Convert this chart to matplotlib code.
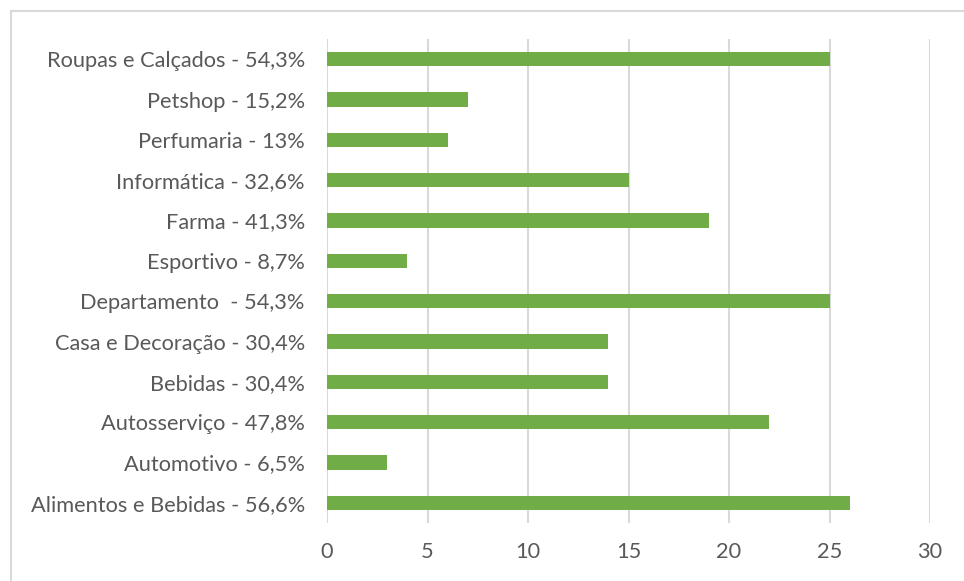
import matplotlib.pyplot as plt
from matplotlib.patches import Rectangle

# categories listed bottom to top
categories = [
    "Alimentos e Bebidas - 56,6%",
    "Automotivo - 6,5%",
    "Autosserviço - 47,8%",
    "Bebidas - 30,4%",
    "Casa e Decoração - 30,4%",
    "Departamento  - 54,3%",
    "Esportivo - 8,7%",
    "Farma - 41,3%",
    "Informática - 32,6%",
    "Perfumaria - 13%",
    "Petshop - 15,2%",
    "Roupas e Calçados - 54,3%",
]
counts = [26, 3, 22, 14, 14, 25, 4, 19, 15, 6, 7, 25]
x_ticks = [0, 5, 10, 15, 20, 25, 30]

BAR_COLOR = "#70AD47"
GRID_COLOR = "#D9D9D9"
TEXT_COLOR = "#595959"

plt.rcParams["font.family"] = ["Lato", "DejaVu Sans"]

fig = plt.figure(figsize=(9.64, 5.81), dpi=100)
ax = fig.add_axes([327 / 964, 1 - 523 / 581, (930 - 327) / 964, (523 - 39) / 581])

ax.barh(range(len(categories)), counts, height=0.36, color=BAR_COLOR, zorder=3)

ax.set_xlim(0, 30)
ax.set_ylim(-0.5, len(categories) - 0.5)
ax.set_xticks(x_ticks)
ax.set_yticks(range(len(categories)))
ax.set_yticklabels(categories)
ax.xaxis.grid(True, color=GRID_COLOR, linewidth=1.5, zorder=0)
ax.tick_params(axis="y", length=0, pad=16, labelsize=15.7, labelcolor=TEXT_COLOR)
ax.tick_params(axis="x", length=0, pad=14, labelsize=15.7, labelcolor=TEXT_COLOR)
for side in ax.spines:
    ax.spines[side].set_visible(False)

# outer chart border
fig.add_artist(Rectangle((11 / 964, -0.1), 2, 1 - 10.5 / 581 + 0.1,
                         transform=fig.transFigure, fill=False,
                         edgecolor=GRID_COLOR, linewidth=1.5))

fig.savefig("out.png", dpi=100)
